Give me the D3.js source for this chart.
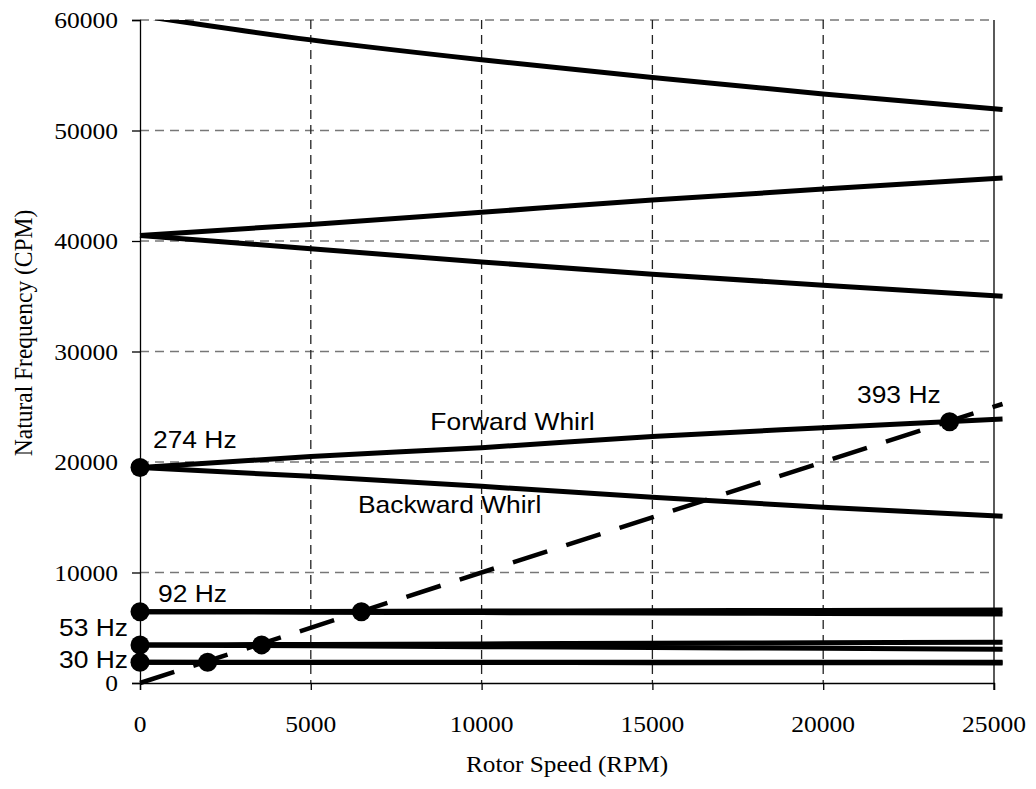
<!DOCTYPE html>
<html><head><meta charset="utf-8">
<script src="https://cdn.jsdelivr.net/npm/d3@7"></script>
<style>body{margin:0;background:#fff}svg{display:block}</style>
</head><body>
<svg id="c" width="1036" height="789"></svg>
<script>
// ---- data ----
const rpm = [0, 5000, 10000, 15000, 20000, 25250];
const mode30F = [1870, 1870, 1870, 1880, 1880, 1880];
const mode30B = [1870, 1860, 1850, 1840, 1830, 1820];
const mode53F = [3440, 3490, 3540, 3590, 3640, 3690];
const mode53B = [3440, 3370, 3290, 3210, 3140, 3060];
const mode92F = [6450, 6480, 6510, 6540, 6570, 6600];
const mode92B = [6450, 6410, 6370, 6330, 6290, 6250];
const whirlF = [19500, 20500, 21300, 22300, 23100, 23900];
const whirlB = [19500, 18700, 17800, 16800, 15900, 15100];
const mode5F = [40500, 41500, 42600, 43700, 44700, 45700];
const mode5B = [40500, 39300, 38100, 37000, 36000, 35000];
const mode6 = [60400, 58200, 56400, 54800, 53300, 51900];
const syncRpm = [0, 25250];
const syncCpm = [0, 25250];
const dotRpm = [0, 0, 0, 0, 1980, 3560, 6480, 23700];
const dotCpm = [19500, 6450, 3440, 1870, 1870, 3450, 6450, 23650];
const xTicks = [0, 5000, 10000, 15000, 20000, 25000];
const yTicks = [0, 10000, 20000, 30000, 40000, 50000, 60000];
const labels = [
  {t: "274 Hz", x: 380, y: 21270, a: "start"},
  {t: "92 Hz", x: 530, y: 7330, a: "start"},
  {t: "53 Hz", x: -350, y: 4250, a: "end"},
  {t: "30 Hz", x: -350, y: 1380, a: "end"},
  {t: "393 Hz", x: 20990, y: 25340, a: "start"},
  {t: "Forward Whirl", x: 8500, y: 22900, a: "start"},
  {t: "Backward Whirl", x: 6380, y: 15380, a: "start"}
];

const svg = d3.select("#c");
const L = 140, R = 994, T = 20, B = 683;
const x = d3.scaleLinear().domain([0, 25000]).range([L, R]);
const y = d3.scaleLinear().domain([0, 60000]).range([B, T]);

// grid
svg.append("g").selectAll("line").data(yTicks.filter(v => v > 0)).join("line")
  .attr("x1", L).attr("x2", R).attr("y1", d => y(d)).attr("y2", d => y(d))
  .attr("stroke", "#777").attr("stroke-width", 1.3).attr("stroke-dasharray", "9,6");
svg.append("g").selectAll("line").data(xTicks.filter(v => v > 0 && v < 25000)).join("line")
  .attr("y1", T).attr("y2", B).attr("x1", d => x(d)).attr("x2", d => x(d))
  .attr("stroke", "#222").attr("stroke-width", 1.3).attr("stroke-dasharray", "9,6");
svg.append("line").attr("x1", R).attr("x2", R).attr("y1", T).attr("y2", B + 7)
  .attr("stroke", "#000").attr("stroke-width", 1.3);

// axes
const gx = svg.append("g").attr("transform", `translate(0,${B})`)
  .call(d3.axisBottom(x).tickValues(xTicks).tickSize(7).tickFormat(() => ""));
const gy = svg.append("g").attr("transform", `translate(${L},0)`)
  .call(d3.axisLeft(y).tickValues(yTicks).tickSize(8).tickFormat(() => ""));
[gx, gy].forEach(g => {
  g.select(".domain").attr("stroke", "#000").attr("stroke-width", 1.3);
  g.selectAll(".tick line").attr("stroke", "#000").attr("stroke-width", 1.3);
});

function txt(s, px, py, anchor, family, size, sx) {
  svg.append("text").attr("transform", `translate(${px},${py}) scale(${sx},1)`)
    .attr("text-anchor", anchor).attr("font-family", family).attr("font-size", size)
    .attr("fill", "#000").text(s);
}
const serif = "'Liberation Serif','Times New Roman',serif";
const sans = "'Liberation Sans',Arial,sans-serif";
yTicks.forEach(v => txt(d3.format("d")(v), 118, y(v) + 8, "end", serif, 23, 1.11));
xTicks.forEach(v => txt(d3.format("d")(v), x(v), 732, "middle", serif, 23, 1.11));
txt("Rotor Speed (RPM)", (L + R) / 2, 772, "middle", serif, 23, 1.1);
svg.append("text").attr("transform", `translate(32,333) rotate(-90) scale(1,1.08)`)
  .attr("text-anchor", "middle").attr("font-family", serif).attr("font-size", 23.5)
  .text("Natural Frequency (CPM)");

// clip
svg.append("clipPath").attr("id", "clip").append("rect")
  .attr("x", L - 12).attr("y", T).attr("width", R - L + 30).attr("height", B - T + 2);

const line = d3.line().x(d => x(d[0])).y(d => y(d[1])).curve(d3.curveMonotoneX);
const plot = svg.append("g").attr("clip-path", "url(#clip)");
const series = [mode30F, mode30B, mode53F, mode53B, mode92F, mode92B, whirlF, whirlB, mode5F, mode5B, mode6];
series.forEach(s => {
  plot.append("path").datum(rpm.map((r, i) => [r, s[i]])).attr("d", line)
    .attr("fill", "none").attr("stroke", "#000").attr("stroke-width", 5).attr("stroke-linejoin", "round");
});
svg.append("path").datum(syncRpm.map((r, i) => [r, syncCpm[i]])).attr("d", line)
  .attr("fill", "none").attr("stroke", "#000").attr("stroke-width", 4.5).attr("stroke-dasharray", "36,20");

svg.append("g").selectAll("circle").data(dotRpm.map((r, i) => [r, dotCpm[i]])).join("circle")
  .attr("cx", d => x(d[0])).attr("cy", d => y(d[1])).attr("r", 9.5).attr("fill", "#000");

labels.forEach(l => txt(l.t, x(l.x), y(l.y), l.a, sans, 24, 1.1));
</script>
</body></html>
